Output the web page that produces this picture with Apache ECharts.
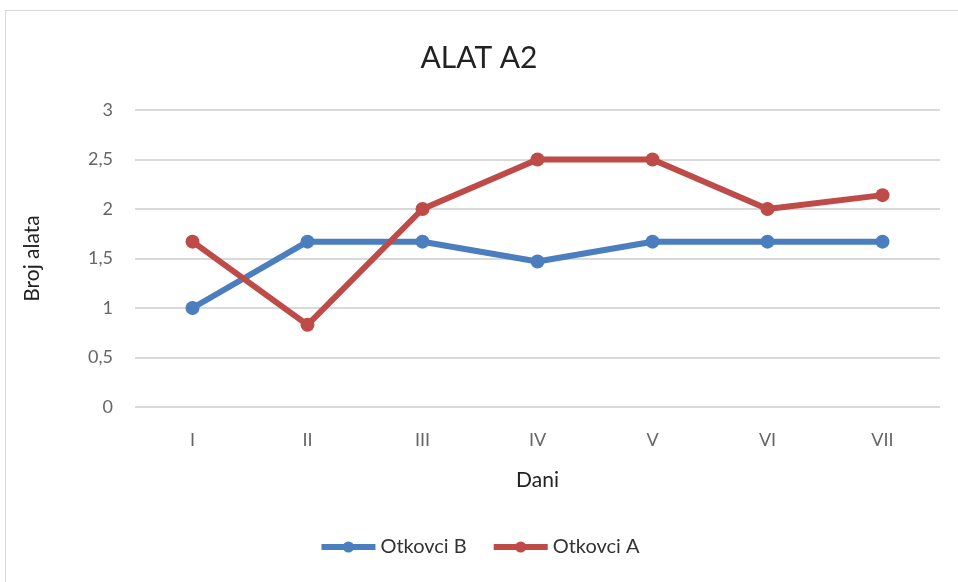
<!DOCTYPE html>
<html>
<head>
<meta charset="utf-8">
<script src="https://cdn.jsdelivr.net/npm/echarts@6/dist/echarts.min.js"></script>
<style>
  html, body { margin: 0; padding: 0; background: #fff; }
  .frame {
    position: absolute;
    left: 5px;
    top: 10px;
    width: 960px;
    height: 580px;
    border: 1px solid #d9d9d9;
    box-sizing: border-box;
  }
  #chart { position: absolute; left: 0; top: 0; width: 958px; height: 582px; }
</style>
</head>
<body>
<div class="frame"></div>
<div id="chart"></div>
<script>
// podaci
const days = ['I', 'II', 'III', 'IV', 'V', 'VI', 'VII']
const otkovciB = [1, 1.67, 1.67, 1.47, 1.67, 1.67, 1.67]
const otkovciA = [1.67, 0.83, 2, 2.5, 2.5, 2, 2.14]

const font = 'Lato, "Open Sans", sans-serif'

const chart = echarts.init(document.getElementById('chart'))
chart.setOption({
  animation: false,
  textStyle: { fontFamily: font },
  title: {
    text: 'ALAT A2',
    left: 'center',
    top: 38,
    textStyle: { fontFamily: font, fontSize: 30, fontWeight: 'normal', color: '#222' },
  },
  grid: {
    left: 135,
    right: 18,
    top: 110,
    bottom: 175,
  },
  legend: {
    bottom: 20,
    left: 'center',
    itemWidth: 54,
    itemHeight: 14,
    itemGap: 24,
    lineStyle: { width: 6 },
    textStyle: { fontFamily: font, fontSize: 20, color: '#333' },
    data: ['Otkovci B', 'Otkovci A'],
  },
  xAxis: {
    type: 'category',
    data: days,
    name: 'Dani',
    nameLocation: 'middle',
    nameGap: 63,
    nameTextStyle: { fontSize: 21, color: '#222' },
    axisLine: { show: false },
    axisTick: { show: false },
    axisLabel: { fontSize: 18, color: '#666', margin: 24 },
  },
  yAxis: {
    type: 'value',
    min: 0,
    max: 3,
    interval: 0.5,
    name: 'Broj alata',
    nameLocation: 'middle',
    nameGap: 92,
    nameTextStyle: { fontSize: 21, color: '#222' },
    axisLabel: {
      fontSize: 18,
      color: '#666',
      margin: 22,
      formatter: (v) => String(v).replace('.', ','),
    },
    splitLine: { lineStyle: { color: '#d9d9d9', width: 2 } },
  },
  series: [
    {
      name: 'Otkovci B',
      type: 'line',
      data: otkovciB,
      symbol: 'circle',
      symbolSize: 14,
      color: '#4A7EBF',
      lineStyle: { width: 6 },
    },
    {
      name: 'Otkovci A',
      type: 'line',
      data: otkovciA,
      symbol: 'circle',
      symbolSize: 14,
      color: '#BE4B48',
      lineStyle: { width: 6 },
    },
  ],
})
</script>
</body>
</html>
